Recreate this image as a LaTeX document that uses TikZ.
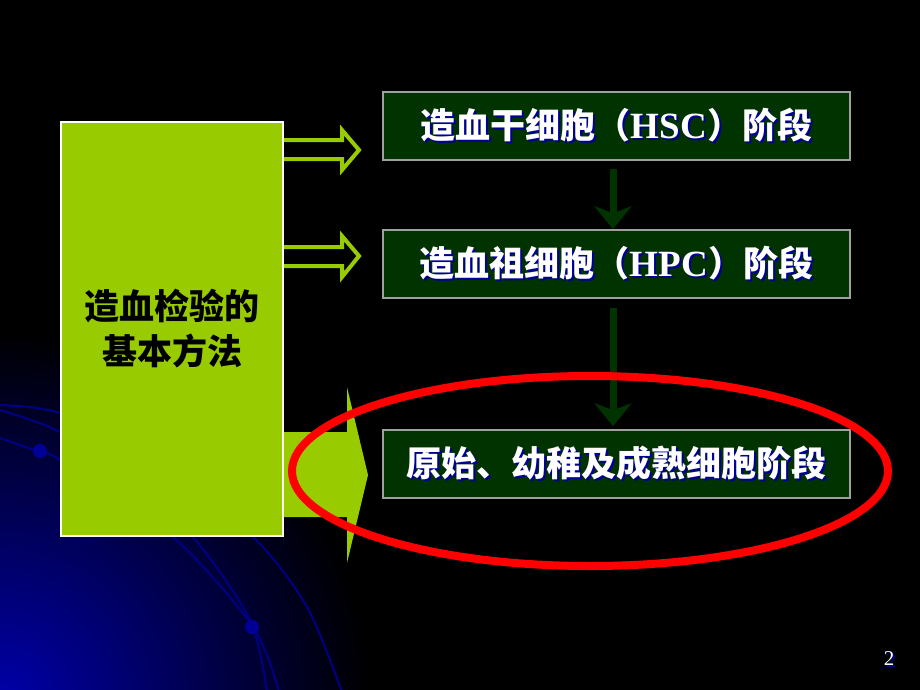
\documentclass[tikz,border=0pt]{standalone}
\usepackage{fontspec}
\setmainfont{Liberation Serif}
\newfontfamily\cjk{Noto Sans CJK SC}
\usetikzlibrary{arrows.meta}
\definecolor{leaf}{RGB}{153,204,0}
\definecolor{stagebg}{RGB}{0,51,0}
\definecolor{stageline}{RGB}{160,160,160}
\definecolor{navy}{RGB}{0,0,150}
\definecolor{swirl}{RGB}{0,0,135}
\definecolor{glow}{RGB}{0,0,170}
\newcommand{\shtext}[1]{\rlap{\raisebox{-2pt}{\kern2pt\color{navy}#1}}#1}

\begin{document}
\begin{tikzpicture}[x=1pt,y=-1pt,
  stage/.style={draw=stageline,line width=1.5pt,fill=stagebg,text=white,
    minimum width=467pt,minimum height=68pt,inner sep=0pt,
    font=\cjk\bfseries\fontsize{35}{44}\selectfont},
  down/.style={draw=stagebg,line width=7pt,-{Stealth[width=37pt,length=23pt,inset=7pt]}},
  hollow/.style={draw=leaf,line width=4pt}]
\useasboundingbox (0,0) rectangle (920,690);
\fill[black] (0,0) rectangle (920,690);
\begin{scope}
  \clip (0,0) rectangle (920,690);
  \shade[inner color=glow,outer color=black] (0,700) circle[radius=370pt];
  \draw[swirl,line width=2pt] plot[smooth] coordinates {(0,438) (40,452) (60,460) (173,537) (253,627) (279,692)};
  \draw[swirl,line width=2pt] plot[smooth] coordinates {(0,410) (60,432) (130,480) (193,537) (250,620) (267,692)};
  \draw[swirl,line width=2pt] plot[smooth] coordinates {(0,405) (60,413) (150,455) (253,537) (307,607) (342,692)};
  \fill[navy] (40,451) circle[radius=7pt];
  \fill[navy] (252,627) circle[radius=7pt];
\end{scope}

\node [draw=white,line width=1.5pt,fill=leaf,minimum width=222pt,minimum height=414pt,
  inner sep=0pt,align=center,font=\cjk\bfseries\fontsize{35}{45}\selectfont] (method) at (172,329)
  {造血检验的\\基本方法};
\node [stage] (hsc) at (616.5,126) {\shtext{造血干细胞（{\rmfamily\fontsize{37}{44}\selectfont HSC}）阶段}};
\node [stage] (hpc) at (616.5,264) {\shtext{造血祖细胞（{\rmfamily\fontsize{37}{44}\selectfont HPC}）阶段}};
\node [stage] (mature) at (616.5,464) {\shtext{原始、幼稚及成熟细胞阶段}};

\draw[hollow] (method.east |- 0,140) -- (342,140) -- (342,130) -- (359,150)
  -- (342,170) -- (342,159) -- (method.east |- 0,159);
\draw[hollow] (method.east |- 0,247) -- (342,247) -- (342,236) -- (359,256)
  -- (342,277) -- (342,266) -- (method.east |- 0,266);
\fill[leaf] (method.east |- 0,432) -- (347,432) -- (347,387) -- (368,475)
  -- (347,563) -- (347,517) -- (method.east |- 0,517) -- cycle;

\draw[down,shorten <=8pt] ([xshift=-3.5pt]hsc.south) -- ([xshift=-3.5pt]hpc.north);
\draw[down,shorten <=9pt,shorten >=3pt] ([xshift=-3.5pt]hpc.south) -- ([xshift=-3.5pt]mature.north);

\draw[red,line width=8pt] (590,471) ellipse[x radius=298pt,y radius=95pt];

\node [text=white,font=\fontsize{21}{24}\selectfont] (page) at (889,660) {\shtext{2}};
\end{tikzpicture}
\end{document}
